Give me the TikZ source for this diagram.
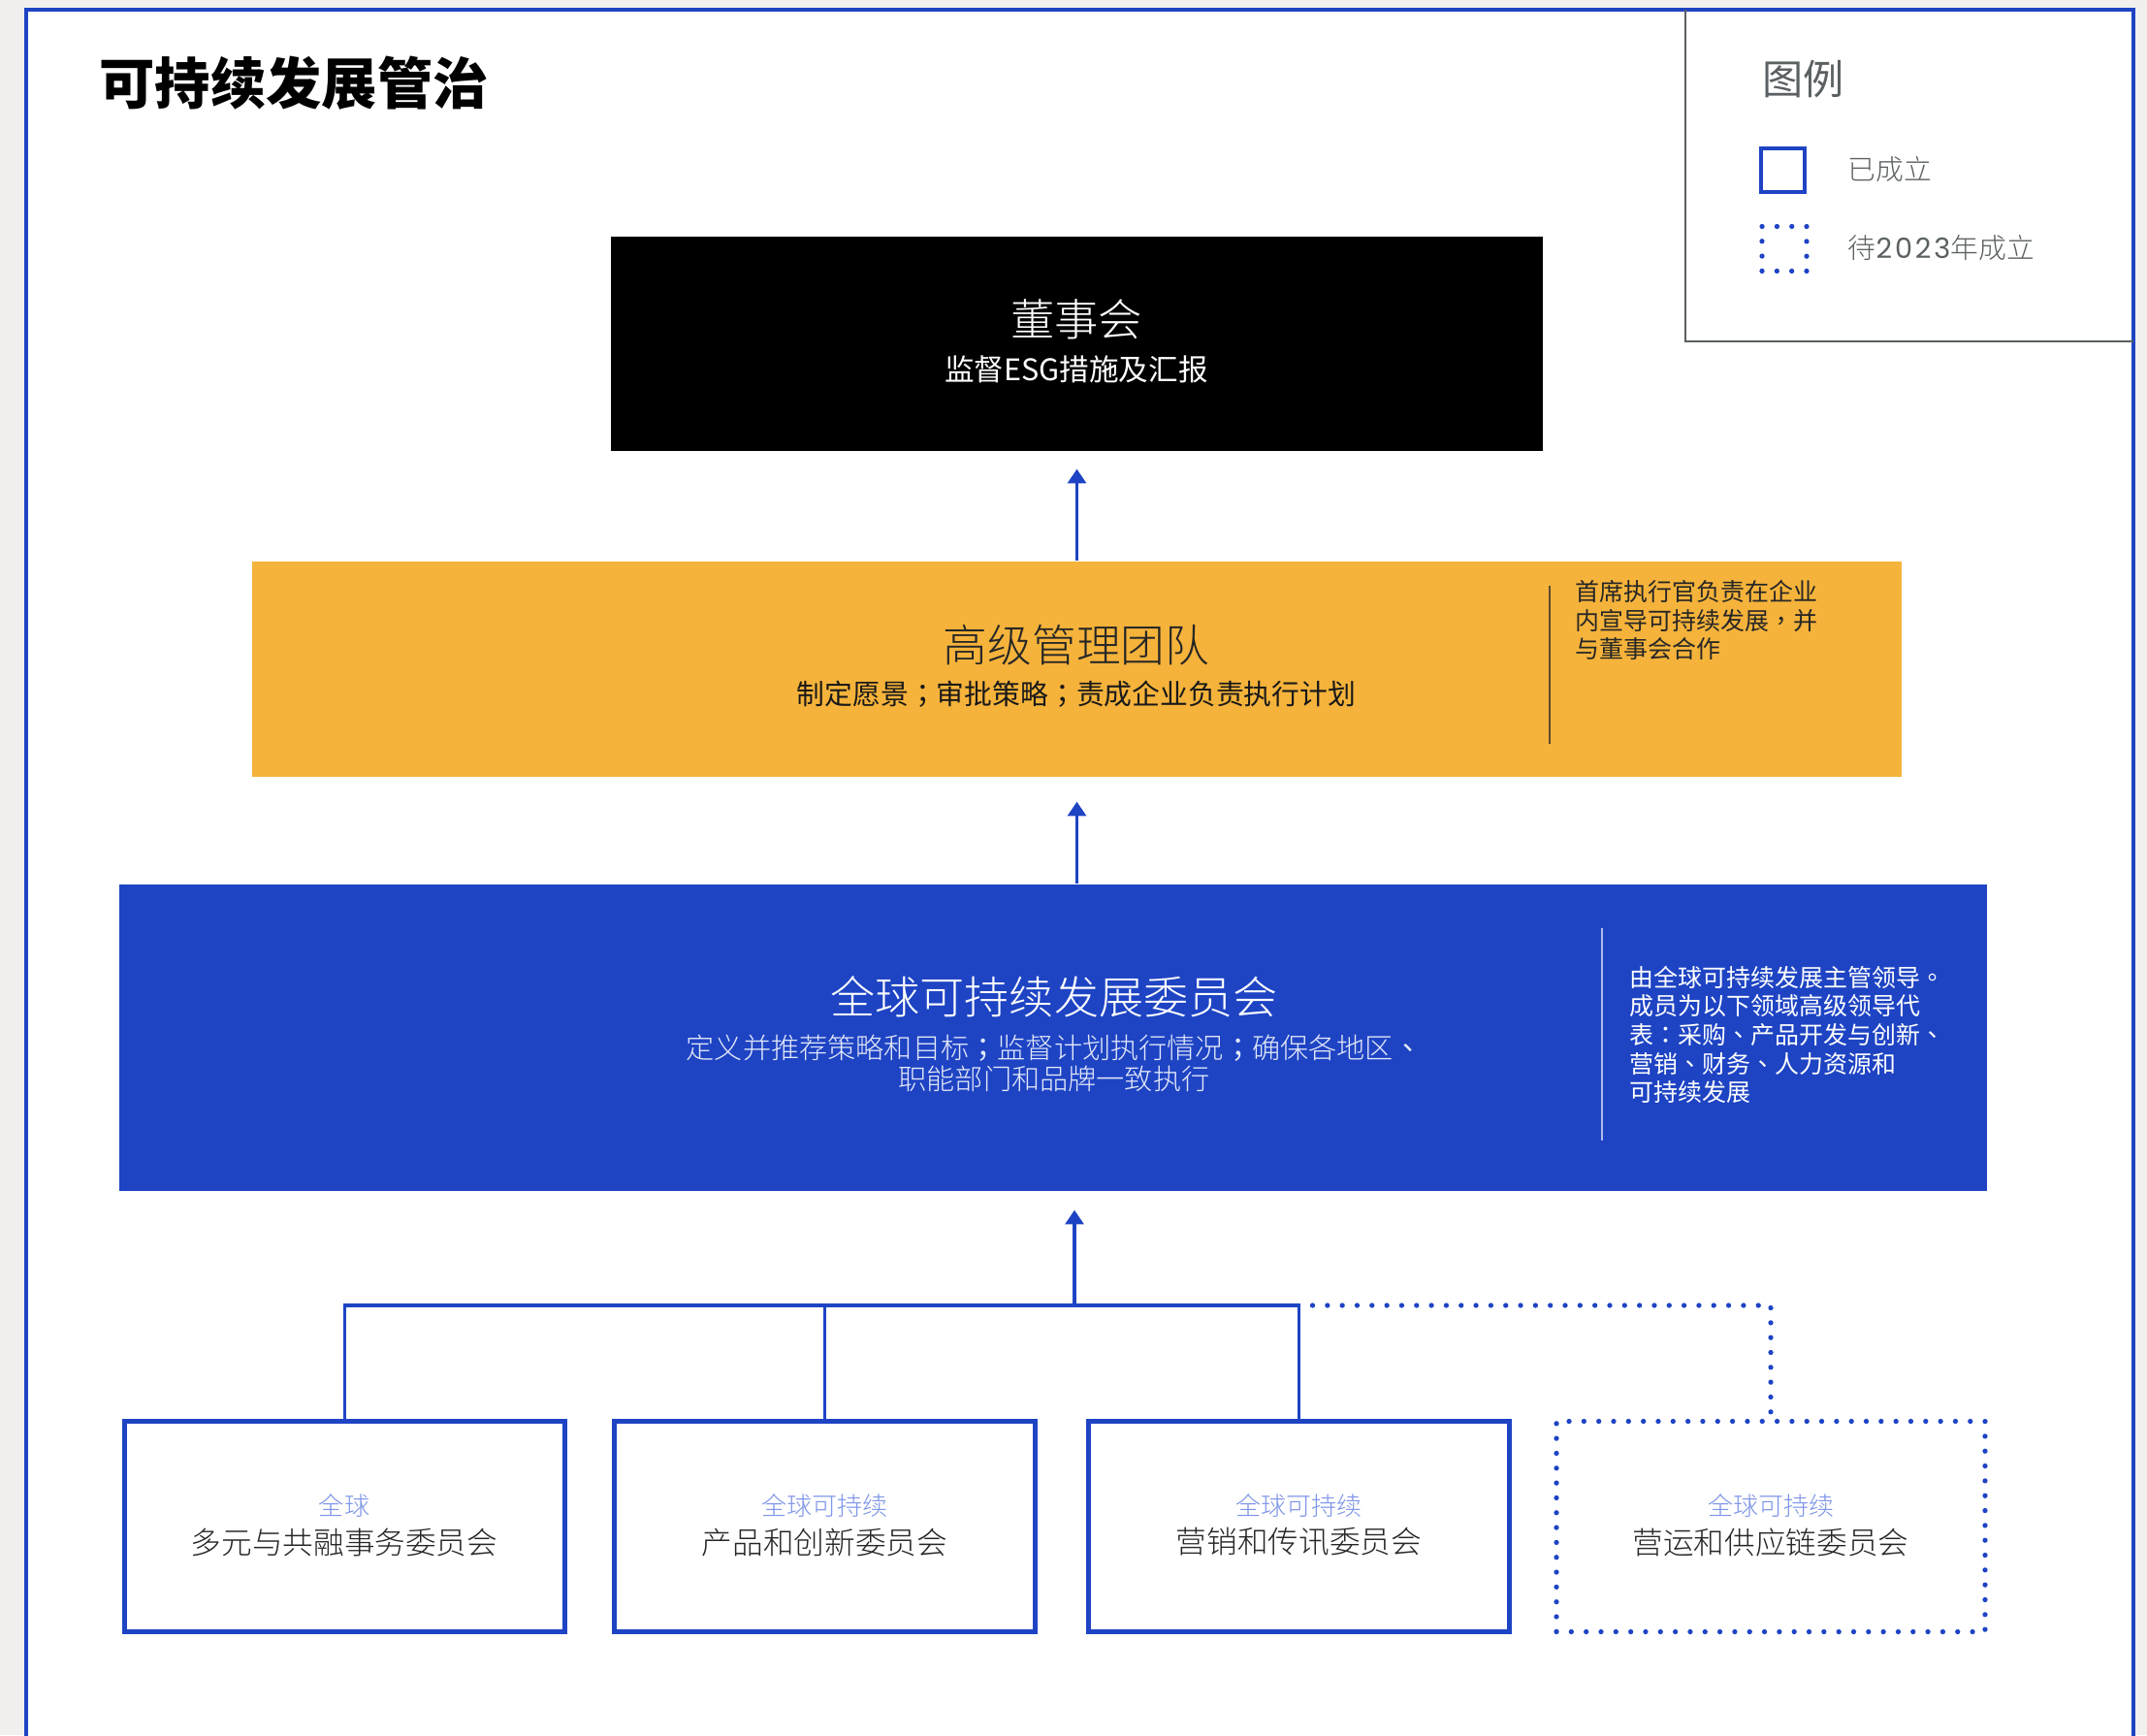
\documentclass[tikz,border=0pt]{standalone}
\usepackage{fontspec}
\setmainfont{Noto Sans CJK SC}
\newfontfamily\lightcjk{Noto Sans CJK SC Light}
\newfontfamily\blackcjk{Noto Sans CJK SC Black}
\newfontfamily\tcpunct{Noto Sans CJK TC}
\newfontfamily\digitfont[LetterSpace=10]{Poppins}
\newcommand\pmark[1]{{\tcpunct#1}}
\usetikzlibrary{arrows.meta}
\definecolor{esgblue}{HTML}{1E44C4}
\definecolor{esgorange}{HTML}{F5B33B}
\definecolor{pagegray}{HTML}{F1F0EE}
\definecolor{legendgray}{HTML}{5B6062}
\definecolor{paleblue}{HTML}{7E95E8}
\definecolor{mistblue}{HTML}{E3E8F8}
\definecolor{paleline}{HTML}{AEBBEB}
\definecolor{execline}{HTML}{5B4B2E}
\begin{document}
\begin{tikzpicture}[%
% common options for the big blocks:
block/.style = {rectangle, draw=none, inner sep=0},
% common options for the committees:
committee/.style = {rectangle, draw=esgblue, line width=1.4pt, fill=white, inner sep=0,
            minimum width=4.34cm, minimum height=2.17cm},
% common options for the dotted lines:
pending/.style = {draw=esgblue, line width=1.5pt, line cap=round, dash pattern=on 0pt off 4.36pt},
link/.style = {draw=esgblue, line width=0.95pt},
uparrow/.style = {draw=esgblue, line width=0.95pt, -{Triangle[width=5.4pt,length=4.2pt]}},
sidenote/.style = {anchor=north west, align=left, inner sep=0, font=\fontsize{7.1pt}{8.4pt}\selectfont},
tag/.style = {inner sep=0, text=paleblue, font=\lightcjk\fontsize{7.4pt}{9pt}\selectfont},
cname/.style = {inner sep=0, text=black!85, font=\lightcjk\fontsize{9pt}{11pt}\selectfont}]
\useasboundingbox (0,0) rectangle (22.14,-17.89);
\fill[pagegray] (0,0) rectangle (22.14,-17.89);
\fill[white] (0.27,-0.10) rectangle (22.00,-17.95);
\draw[esgblue, line width=1.15pt] (0.27,-17.95) -- (0.27,-0.10) -- (22.00,-0.10) -- (22.00,-17.95);
\node[anchor=west, inner sep=0, font=\blackcjk\fontsize{16.3pt}{18pt}\selectfont] (title) at (1.02,-0.86) {可持续发展管治};
\draw[legendgray, line width=0.5pt] (17.38,-0.10) -- (17.38,-3.52) -- (22.00,-3.52);
\node[anchor=west, inner sep=0, text=legendgray, font=\fontsize{12pt}{14pt}\selectfont] (legendtitle) at (18.17,-0.82) {图例};
\node[rectangle, draw=esgblue, line width=1.15pt, minimum size=0.45cm, inner sep=0] (keydone) at (18.385,-1.755) {};
\node[anchor=west, inner sep=0, text=legendgray, font=\lightcjk\fontsize{8.2pt}{10pt}\selectfont] (keydonetext) at (19.05,-1.75) {已成立};
\node[rectangle, pending, minimum size=0.46cm, inner sep=0] (keyplan) at (18.40,-2.565) {};
\node[anchor=west, inner sep=0, text=legendgray, font=\lightcjk\fontsize{8.2pt}{10pt}\selectfont] (keyplantext) at (19.05,-2.56) {待{\digitfont 2023}年成立};
\node[block, fill=black, minimum width=9.61cm, minimum height=2.21cm] (board) at (11.105,-3.545) {};
\node[inner sep=0, text=white, font=\lightcjk\fontsize{12.9pt}{15pt}\selectfont] (boardname) at (11.10,-3.29) {董事会};
\node[inner sep=0, text=white, font=\fontsize{8.7pt}{10pt}\selectfont] (boardrole) at (11.10,-3.81) {监督ESG措施及汇报};
\node[block, fill=esgorange, minimum width=17.01cm, minimum height=2.22cm] (exec) at (11.105,-6.90) {};
\node[inner sep=0, text=black!85, font=\lightcjk\fontsize{13pt}{15pt}\selectfont] (execname) at (11.10,-6.65) {高级管理团队};
\node[inner sep=0, text=black!90, font=\fontsize{8.2pt}{10pt}\selectfont] (execrole) at (11.10,-7.16) {制定愿景\pmark{；}审批策略\pmark{；}责成企业负责执行计划};
\draw[execline, line width=0.6pt] (15.98,-6.04) -- (15.98,-7.67);
\node[sidenote, text=black!85] (execnote) at (16.24,-5.98) {首席执行官负责在企业\\内宣导可持续发展\pmark{，}并\\与董事会合作};
\node[block, fill=esgblue, minimum width=19.26cm, minimum height=3.16cm] (gsc) at (10.86,-10.70) {};
\node[inner sep=0, text=white, font=\lightcjk\fontsize{13.1pt}{15pt}\selectfont] (gscname) at (10.87,-10.28) {全球可持续发展委员会};
\node[inner sep=0, align=center, text=mistblue, font=\lightcjk\fontsize{8.3pt}{9.25pt}\selectfont] (gscrole) at (10.87,-10.965) {定义并推荐策略和目标\pmark{；}监督计划执行情况\pmark{；}确保各地区\pmark{、}\\职能部门和品牌一致执行};
\draw[paleline, line width=0.6pt] (16.52,-9.57) -- (16.52,-11.76);
\node[sidenote, text=white] (gscnote) at (16.80,-9.955) {由全球可持续发展主管领导\pmark{。}\\成员为以下领域高级领导代\\表\pmark{：}采购\pmark{、}产品开发与创新\pmark{、}\\营销\pmark{、}财务\pmark{、}人力资源和\\可持续发展};
\node[committee, minimum width=4.54cm] (dei) at (3.555,-15.74) {};
\node[committee] (product) at (8.505,-15.74) {};
\node[committee] (marketing) at (13.395,-15.74) {};
\node[rectangle, pending, fill=white, inner sep=0, minimum width=4.42cm, minimum height=2.17cm] (ops) at (18.26,-15.74) {};
\node[tag] (deitag) at (3.55,-15.52) {全球};
\node[cname] (deiname) at (3.55,-15.90) {多元与共融事务委员会};
\node[tag] (producttag) at (8.505,-15.52) {全球可持续};
\node[cname] (productname) at (8.505,-15.90) {产品和创新委员会};
\node[tag] (marketingtag) at (13.395,-15.52) {全球可持续};
\node[cname] (marketingname) at (13.395,-15.90) {营销和传讯委员会};
\node[tag] (opstag) at (18.26,-15.52) {全球可持续};
\node[cname] (opsname) at (18.26,-15.90) {营运和供应链委员会};
\coordinate (bus) at (11.08,-13.46);
\draw[link] (dei.north) -- (dei.north |- bus) -- (marketing.north |- bus) -- (marketing.north);
\draw[link] (product.north) -- (product.north |- bus);
\draw[pending] ([xshift=0.14cm]marketing.north |- bus) -- (ops.north |- bus) -- (ops.north);
\draw[uparrow, shorten >=5.4pt] (bus) -- (bus |- gsc.south);
\draw[uparrow, shorten >=7.1pt] (exec.south |- gsc.north) -- (exec.south);
\draw[uparrow, shorten >=5.1pt] (exec.north) -- (board.south);
\end{tikzpicture}
\end{document}
